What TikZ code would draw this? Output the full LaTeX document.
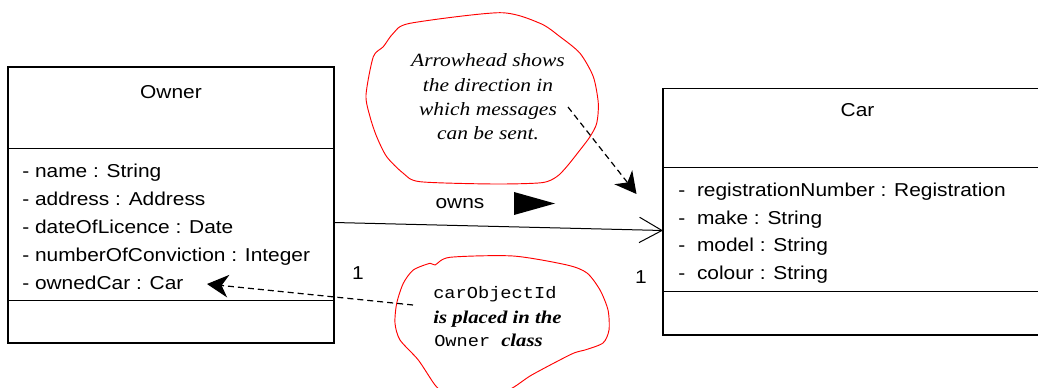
\documentclass[tikz,border=0pt]{standalone}
\usepackage{fontspec}
\setmainfont{Liberation Sans}[FakeStretch=1.12]
\newfontfamily\notefont{Liberation Serif}[FakeStretch=1.15]
\newfontfamily\codefont{Liberation Mono}[FakeStretch=1.12]
\usetikzlibrary{arrows.meta}
\tikzset{
  umlbox/.style={draw, line width=1pt, inner sep=0pt, outer sep=0pt},
  divider/.style={line width=1pt},
  attr/.style={anchor=base west, inner sep=0pt, font=\fontsize{14}{16}\selectfont},
  titletext/.style={inner sep=0pt, font=\fontsize{14}{16}\selectfont},
  mult/.style={inner sep=0pt, font=\fontsize{14}{16}\selectfont},
  cloudline/.style={draw=red, line width=0.7pt},
  notetext/.style={anchor=base, inner sep=0pt, font=\notefont\itshape\fontsize{14}{16}\selectfont},
  notebold/.style={anchor=base west, inner sep=0pt, font=\notefont\bfseries\itshape\fontsize{13.5}{16}\selectfont},
  notecode/.style={anchor=base west, inner sep=0pt, font=\codefont\fontsize{12.5}{15}\selectfont},
  dasharrow/.style={dash pattern=on 4.5pt off 3pt, line width=0.9pt, -{Stealth[length=16pt,width=17pt,inset=5pt]}},
  assoc/.style={line width=0.75pt, -{Straight Barb[length=17pt,width=19pt,line width=0.75pt]}}
}
\begin{document}
\begin{tikzpicture}[x=0.75pt,y=-0.75pt]
\useasboundingbox (0,0) rectangle (1038,388);
\clip (0,0) rectangle (1038,388);
\fill[white] (0,0) rectangle (1038,388);

% Owner class
\node[umlbox, minimum width=244.5pt, minimum height=207pt] (owner) at (171,205) {};
\draw[divider] (owner.west |- 0,148.3) -- (owner.east |- 0,148.3);
\draw[divider] (owner.west |- 0,300.7) -- (owner.east |- 0,300.7);
\node[titletext] (ownertitle) at (171,92) {Owner};
\node[attr] (oa1) at (22,177.7) {- name : String};
\node[attr] (oa2) at (22,205.5) {- address : Address};
\node[attr] (oa3) at (22,233.3) {- dateOfLicence : Date};
\node[attr] (oa4) at (22,261.1) {- numberOfConviction : Integer};
\node[attr] (oa5) at (22,289) {- ownedCar : Car};

% Car class
\node[umlbox, minimum width=282.75pt, minimum height=185pt] (car) at (851.5,211.65) {};
\draw[divider] (car.west |- 0,167.3) -- (car.east |- 0,167.3);
\draw[divider] (car.west |- 0,291.7) -- (car.east |- 0,291.7);
\node[titletext] (cartitle) at (857.5,110) {Car};
\node[attr] (ca1) at (678,197) {-\hspace{4.5pt} registrationNumber : Registration};
\node[attr] (ca2) at (678,224.5) {-\hspace{4.5pt} make : String};
\node[attr] (ca3) at (678,252) {-\hspace{4.5pt} model : String};
\node[attr] (ca4) at (678,279.5) {-\hspace{4.5pt} colour : String};

% Association
\coordinate (assocstart) at (334,222.5);
\coordinate (assocend) at (663,230.5);
\draw[assoc] (assocstart) -- (assocend);
\node[mult] (owns) at (460,204) {owns};
\fill (514,192) -- (555,203.5) -- (514,215) -- cycle;
\node[mult] (m1) at (358,273) {1};
\node[mult] (m2) at (641,277) {1};

% Note 1
\draw[cloudline] plot[smooth cycle, tension=0.45] coordinates {
  (393.3,33.3) (410,23.3) (500,12.7) (540,23.3) (560,36.7) (580,53.3)
  (593.3,76.7) (598.3,103.3) (596.7,123.3) (590,136.7) (580,150)
  (566.7,166.7) (556.7,176.7) (541.7,182.7) (493.3,184) (420,181.7)
  (403.3,173.3) (386.7,156.7) (376.7,136.7) (370,116.7) (366,95)
  (373.3,56.7) (383.3,46.7)};
\node[notetext] (n1a) at (488,67) {Arrowhead shows};
\node[notetext] (n1b) at (488,92) {the direction in};
\node[notetext] (n1c) at (488,116) {which messages};
\node[notetext] (n1d) at (488,140) {can be sent.};
\coordinate (n1start) at (568,107);
\coordinate (n1end) at (636.5,194);
\draw[dasharrow] (n1start) -- (n1end);

% Note 2
\draw[cloudline] plot[smooth cycle, tension=0.45] coordinates {
  (430,263.3) (435,265) (450,257.3) (513,256) (567,265) (587,273)
  (600,290) (608,310) (609,330) (603,343) (585,350) (571.7,354)
  (531.7,375) (508.3,390) (470,400) (445,393) (435,385) (418.3,360)
  (400,340) (395,323.3) (396.7,303.3) (403.3,283.3) (413.3,270)};
\node[notecode] (n2a) at (433,298.3) {carObjectId};
\node[notebold] (n2b) at (433,323.3) {is placed in the};
\node[notecode] (n2c) at (434,346.7) {Owner};
\node[notebold] (n2d) at (501,346.7) {class};
\coordinate (n2start) at (413,305);
\coordinate (n2end) at (207,284);
\draw[dasharrow] (n2start) -- (n2end);
\end{tikzpicture}
\end{document}
